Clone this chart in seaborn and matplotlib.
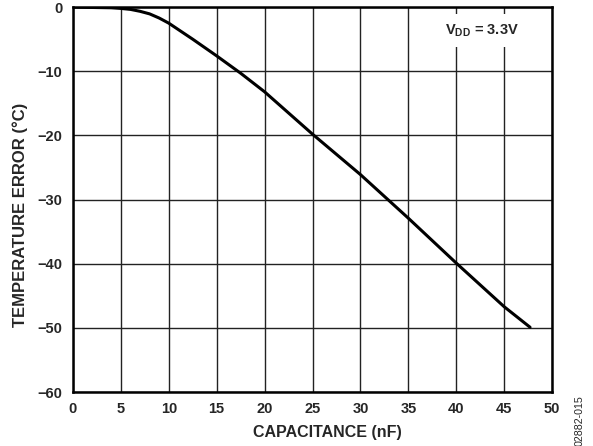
import seaborn as sns
import matplotlib.pyplot as plt
import pandas as pd

# Capacitance (nF) vs temperature error (°C), VDD = 3.3V
capacitance = [0, 2, 4, 5, 6, 7, 8, 9, 10, 11, 12.5, 15, 17.5, 20, 22.5, 25, 30, 35, 40, 45, 47.7]
temp_error = [0, -0.05, -0.1, -0.2, -0.35, -0.65, -1.05, -1.7, -2.5, -3.5, -5.0, -7.6, -10.3,
              -13.2, -16.5, -19.8, -26.1, -32.9, -39.9, -46.7, -49.9]

x_ticks = [0, 5, 10, 15, 20, 25, 30, 35, 40, 45, 50]
y_ticks = [0, -10, -20, -30, -40, -50, -60]

sns.set_style("whitegrid")
plt.rcParams['font.family'] = ['Liberation Sans', 'DejaVu Sans']
plt.rcParams['mathtext.fontset'] = 'custom'
plt.rcParams['mathtext.rm'] = 'Liberation Sans:bold'
plt.rcParams['mathtext.bf'] = 'Liberation Sans:bold'

df = pd.DataFrame({'cap': capacitance, 'err': temp_error})

fig = plt.figure(figsize=(5.93, 4.46), dpi=100)
ax = fig.add_axes([0.123, 0.121, 0.808, 0.863])
sns.lineplot(data=df, x='cap', y='err', color='black', linewidth=2.2, ax=ax)

ax.set_xlim(0, 50)
ax.set_ylim(-60, 0)
ax.set_xticks(x_ticks)
ax.set_yticks(y_ticks)
ax.grid(True, color='#222222', linewidth=1.0)
for s in ax.spines.values():
    s.set_color('black')
    s.set_linewidth(1.8)
ax.tick_params(length=0, labelsize=10.5, pad=7.5)
for lbl in ax.get_xticklabels() + ax.get_yticklabels():
    lbl.set_fontweight('bold')

ax.set_xlabel('CAPACITANCE (nF)', fontsize=11.5, fontweight='bold')
ax.set_ylabel('TEMPERATURE ERROR (°C)', fontsize=12, fontweight='bold')
ax.xaxis.set_label_coords(0.532, -0.086)
ax.yaxis.set_label_coords(-0.094, 0.46)

ax.text(42.7, -3.6, r'V$_{\mathrm{DD}}$ = 3.3V', ha='center', va='center', fontsize=10.5,
        fontweight='bold', bbox=dict(facecolor='white', edgecolor='none', pad=6), zorder=5)

fig.text(0.977, 0.058, '02882-015', rotation=90, ha='center', va='center', fontsize=7.7)

plt.savefig('out.png', dpi=100)
